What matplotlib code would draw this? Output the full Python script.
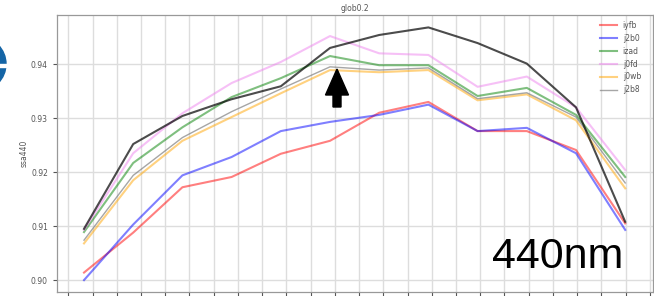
import numpy as np
import matplotlib
matplotlib.use("Agg")
import matplotlib.pyplot as plt
from matplotlib import patches, transforms

# sample positions (12 runs along the x axis)
steps = list(range(12))

iyfb = [0.9014, 0.9088, 0.9172, 0.9191, 0.9234, 0.9258, 0.9310, 0.9330, 0.9276, 0.9276, 0.9241, 0.9105]
j2b0 = [0.9000, 0.9103, 0.9194, 0.9228, 0.9276, 0.9293, 0.9306, 0.9325, 0.9276, 0.9282, 0.9235, 0.9093]
izad = [0.9089, 0.9217, 0.9283, 0.9339, 0.9374, 0.9415, 0.9398, 0.9398, 0.9341, 0.9356, 0.9306, 0.9191]
j0fd = [0.9093, 0.9235, 0.9309, 0.9365, 0.9404, 0.9452, 0.9420, 0.9417, 0.9358, 0.9377, 0.9320, 0.9204]
j0wb = [0.9068, 0.9185, 0.9258, 0.9302, 0.9346, 0.9389, 0.9385, 0.9389, 0.9333, 0.9344, 0.9296, 0.9170]
j2b8 = [0.9074, 0.9194, 0.9264, 0.9312, 0.9354, 0.9395, 0.9389, 0.9393, 0.9336, 0.9347, 0.9302, 0.9180]
ref = [0.9095, 0.9252, 0.9304, 0.9335, 0.9359, 0.9430, 0.9454, 0.9468, 0.9439, 0.9401, 0.9320, 0.9108]

series = [
    ("iyfb", iyfb, "red"),
    ("j2b0", j2b0, "blue"),
    ("izad", izad, "green"),
    ("j0fd", j0fd, "violet"),
    ("j0wb", j0wb, "orange"),
]

W, H = 654, 296
fig = plt.figure(figsize=(W / 100, H / 100), dpi=100)
ax = fig.add_axes([57 / W, 4 / H, 596 / W, 277 / H])

for name, vals, col in series:
    ax.plot(steps, vals, color=col, alpha=0.5, lw=1.5, label=name)
ax.plot(steps, j2b8, color="gray", alpha=0.7, lw=1.0, label="j2b8")
ax.plot(steps, ref, color="black", alpha=0.7, lw=1.5)

ax.set_xlim(-0.549, 11.565)
ax.set_ylim(0.8978, 0.9491)
ax.set_xticks(np.arange(-0.319, 11.6, 0.4925))
ax.set_yticks([0.90, 0.91, 0.92, 0.93, 0.94])
ax.set_yticklabels(["0.90", "0.91", "0.92", "0.93", "0.94"])
ax.tick_params(labelsize=5.5, colors="#555", length=3, width=0.8, labelbottom=False)
ax.grid(True, color="#dddddd", lw=1)
for s in ax.spines.values():
    s.set_color("#999")
    s.set_linewidth(0.9)
ax.set_ylabel("ssa440", fontsize=5.5, color="#555", labelpad=2)
ax.set_title("glob0.2", fontsize=5.5, color="#555", pad=3)
ax.legend(loc="upper right", bbox_to_anchor=(0.99, 1.0), fontsize=5.5, frameon=False,
          labelcolor="#555", borderaxespad=0.4, handlelength=2.2)

# slide annotations drawn in pixel space
px = transforms.Affine2D().scale(1 / W, 1 / H) + fig.transFigure
fig.patches.append(patches.FancyArrow(337, H - 107, 0, 38, width=8, head_width=23,
                                      head_length=26, length_includes_head=True,
                                      color="black", transform=px, figure=fig))
fig.patches.append(patches.Circle((-21, H - 64), 27, color="#1565a6", transform=px, figure=fig))
fig.patches.append(patches.Rectangle((-5, H - 67), 14, 3.5, color="white", transform=px, figure=fig))
fig.text(492 / W, (H - 268) / H, "440nm", fontsize=31, family="Liberation Sans",
         color="black", ha="left", va="baseline")

fig.savefig("out.png", dpi=100)
